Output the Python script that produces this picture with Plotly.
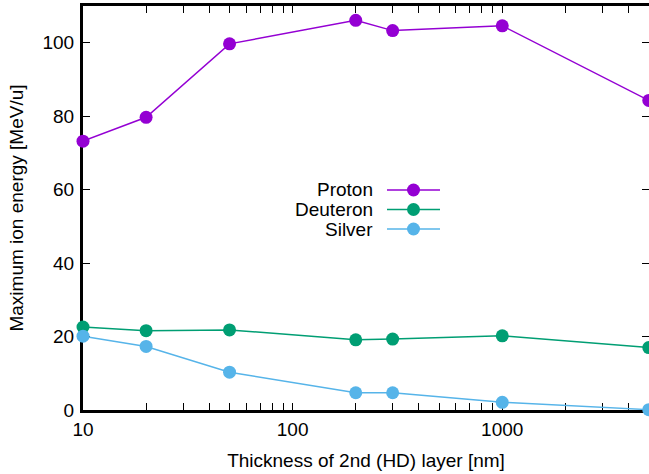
import plotly.graph_objects as go
import math

# ---- data ----
thickness_nm = [10, 20, 50, 200, 300, 1000, 5000]
proton = [73.2, 79.7, 99.7, 106.1, 103.3, 104.6, 84.3]
deuteron = [22.6, 21.6, 21.8, 19.1, 19.3, 20.2, 17.0]
silver = [20.1, 17.3, 10.3, 4.7, 4.7, 2.1, 0.1]
series_names = ["Proton", "Deuteron", "Silver"]
series_colors = ["#9400D3", "#009E73", "#56B4E9"]
y_ticks = [0, 20, 40, 60, 80, 100]
x_ticks = [10, 100, 1000]

FONT = "Liberation Sans, Arial, Helvetica, sans-serif"
FS = 19

W, H = 649, 474
ML, MR, MT, MB = 83, 0, 6, 64
PW, PH = W - ML - MR, H - MT - MB

fig = go.Figure()
for name, vals, col in zip(series_names, [proton, deuteron, silver], series_colors):
    fig.add_trace(go.Scatter(
        x=thickness_nm, y=vals, mode="lines+markers", name=name,
        line=dict(color=col, width=1.5),
        marker=dict(color=col, size=13, symbol="circle", line=dict(width=0)),
        cliponaxis=False, showlegend=False,
    ))
# empty trace to activate the mirrored right-hand y axis (ticks only)
fig.add_trace(go.Scatter(x=[], y=[], yaxis="y2", showlegend=False))

fig.update_layout(
    width=W, height=H,
    margin=dict(l=ML, r=MR, t=MT, b=MB, autoexpand=False),
    paper_bgcolor="white", plot_bgcolor="white",
    font=dict(family=FONT, size=FS, color="black"),
    xaxis=dict(
        type="log", range=[1, math.log10(5000) + 0.001],
        tickvals=x_ticks, ticktext=[str(v) for v in x_ticks],
        ticks="inside", ticklen=7, tickwidth=1.2, tickcolor="black",
        minor=dict(dtick="D1", ticks="inside", ticklen=3.5, tickwidth=1, tickcolor="black", showgrid=False),
        showline=True, linewidth=3, linecolor="black", mirror="allticks",
        showgrid=False, zeroline=False, layer="below traces", automargin=False,
        title=dict(text="Thickness of 2nd (HD) layer [nm]", standoff=15,
                   font=dict(size=FS)),
        tickfont=dict(size=FS),
    ),
    yaxis=dict(
        range=[0, 110], tickvals=y_ticks,
        ticks="inside", ticklen=7, tickwidth=1.2, tickcolor="black",
        showline=True, linewidth=3, linecolor="black", mirror=False,
        showgrid=False, zeroline=False, layer="below traces", automargin=False,
        title=dict(text="Maximum ion energy [MeV/u]", standoff=14,
                   font=dict(size=FS)),
        tickfont=dict(size=FS), ticklabelstandoff=2,
    ),
    yaxis2=dict(
        overlaying="y", side="right", range=[0, 110], tickvals=y_ticks,
        ticks="inside", ticklen=7, tickwidth=1.2, tickcolor="black",
        showticklabels=False, showline=False, showgrid=False, zeroline=False,
        automargin=False,
    ),
)

# ---- gnuplot-style key: text on the left, sample on the right ----
def px_x(px):
    return (px - ML) / PW

def px_y(py):
    return (H - MB - py) / PH

key_rows = [190, 209.5, 229]
for name, col, ry in zip(series_names, series_colors, key_rows):
    fig.add_annotation(
        x=px_x(375), y=px_y(ry), xref="paper", yref="paper",
        text=name, showarrow=False, xanchor="right", yanchor="middle",
        font=dict(size=FS, color="black"),
    )
    fig.add_shape(type="line", xref="paper", yref="paper",
                  x0=px_x(387), x1=px_x(440), y0=px_y(ry), y1=px_y(ry),
                  line=dict(color=col, width=1.5))
    fig.add_shape(type="circle", xref="paper", yref="paper",
                  xsizemode="pixel", ysizemode="pixel",
                  xanchor=px_x(413.5), yanchor=px_y(ry),
                  x0=-6.5, x1=6.5, y0=-6.5, y1=6.5,
                  fillcolor=col, line=dict(width=0))

fig.write_html("out.html", config={"displayModeBar": False},
               post_script="document.body.style.margin='0';document.body.style.overflow='hidden';")
